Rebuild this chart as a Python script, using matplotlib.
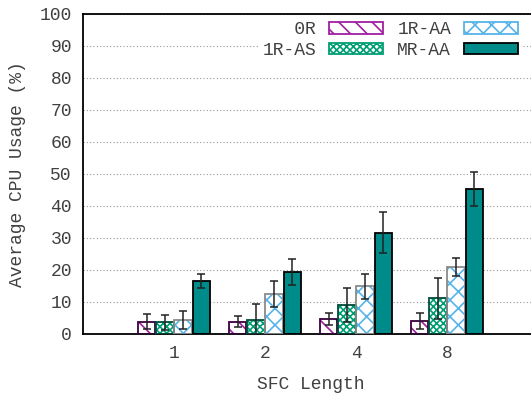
import matplotlib
matplotlib.use("Agg")
import matplotlib.pyplot as plt
import matplotlib.patches as mpatches
import numpy as np

plt.rcParams['font.family'] = ['Liberation Mono', 'DejaVu Sans Mono']
plt.rcParams['hatch.linewidth'] = 1.2

categories = ["1", "2", "4", "8"]
series = ["0R", "1R-AS", "1R-AA", "MR-AA"]
labels = ["   0R", "1R-AS", "1R-AA", "MR-AA"]
means = {
    "0R":    [3.8, 3.9, 4.6, 4.1],
    "1R-AS": [3.6, 4.4, 9.0, 11.1],
    "1R-AA": [4.4, 12.5, 14.9, 20.9],
    "MR-AA": [16.6, 19.3, 31.7, 45.2],
}
errs = {
    "0R":    [2.3, 1.8, 1.9, 2.4],
    "1R-AS": [2.2, 4.9, 5.3, 6.4],
    "1R-AA": [2.7, 4.1, 3.9, 2.9],
    "MR-AA": [2.3, 4.0, 6.5, 5.3],
}
face = {"0R": "white", "1R-AS": "white", "1R-AA": "white", "MR-AA": "#008b8b"}
hcol = {"0R": "#a020a0", "1R-AS": "#009e73", "1R-AA": "#56b4e9", "MR-AA": "#008b8b"}
hatch = {"0R": "\\\\", "1R-AS": "xxxxx", "1R-AA": "xx", "MR-AA": None}
ecol = {"0R": "#3a0040", "1R-AS": "#004d3a", "1R-AA": "#8a8a8a", "MR-AA": "black"}

fig = plt.figure(figsize=(5.31, 3.94), dpi=100)
ax = fig.add_axes([83/531, 1-334/394, 455/531, 320/394])

x = np.arange(1, len(categories)+1)
w = 0.19
offs = [-0.3, -0.1, 0.1, 0.3]
handles = []
for s, o in zip(series, offs):
    ax.bar(x+o, means[s], w, color=face[s], edgecolor=hcol[s], hatch=hatch[s], linewidth=0, zorder=2)
    ax.bar(x+o, means[s], w, fill=False, edgecolor=ecol[s], linewidth=1.3, zorder=3)
    ax.errorbar(x+o, means[s], yerr=errs[s], fmt='none', ecolor='#222222', elinewidth=1.1,
                capsize=3, capthick=1.1, zorder=4)
    handles.append(mpatches.Patch(facecolor=face[s], edgecolor=hcol[s] if hatch[s] else ecol[s],
                                  hatch=hatch[s], linewidth=1.3))

ax.set_xlim(0, 5)
ax.set_ylim(0, 100)
ax.set_xticks(x)
ax.set_xticklabels(categories)
ax.set_yticks(np.arange(0, 101, 10))
ax.tick_params(length=0, labelsize=13, colors='#404040', pad=8)
ax.yaxis.grid(True, linestyle=(0, (1, 2)), color='#999999', linewidth=0.8, zorder=0)
ax.set_axisbelow(True)
for sp in ax.spines.values():
    sp.set_linewidth(1.3)
ax.set_xlabel("SFC Length", fontsize=13, color='#404040', labelpad=10)
ax.set_ylabel("Average CPU Usage (%)", fontsize=13, color='#404040', labelpad=10)

leg = ax.legend(handles, labels, ncol=2, markerfirst=False, loc='upper right',
                bbox_to_anchor=(442/455, 1.0), frameon=True, fancybox=False,
                framealpha=1, edgecolor='none', fontsize=13,
                handlelength=3.0, handleheight=0.6, handletextpad=0.7,
                columnspacing=0.8, labelspacing=0.2, borderpad=0.2, borderaxespad=0.2)
for t in leg.get_texts():
    t.set_color('#404040')

fig.savefig("out.png", dpi=100)
